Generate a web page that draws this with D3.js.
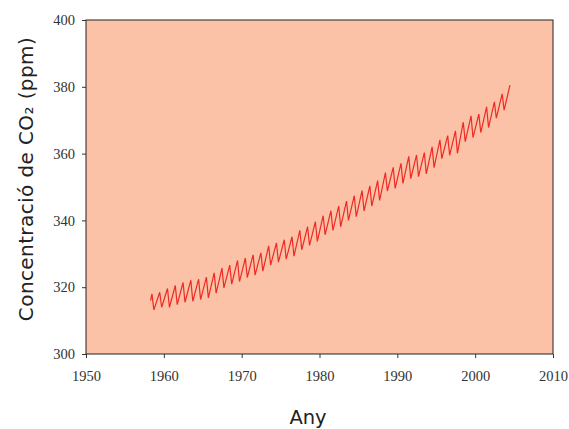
<!DOCTYPE html>
<html>
<head>
<meta charset="utf-8">
<script src="https://cdn.jsdelivr.net/npm/d3@7"></script>
<style>
  body { margin: 0; background: #fff; }
  .tick text { font-family: "Liberation Serif", "DejaVu Serif", serif; font-size: 14.5px; fill: #333; }
  .tick line { stroke: #333; }
  .domain { display: none; }
</style>
</head>
<body>
<div id="chart-area"></div>
<script>
// annual maxima (mid-year) and minima (autumn), ppm
var maxYears = d3.range(1958, 2005);
var maxValues = [318.0, 318.5, 319.6, 320.5, 321.4, 322.1, 322.4, 323.0, 324.3, 325.7,
                 326.6, 328.0, 328.7, 329.7, 330.3, 332.4, 333.3, 334.2, 335.1, 337.0,
                 338.1, 339.6, 341.4, 342.9, 344.3, 345.8, 347.4, 348.9, 350.3, 351.9,
                 354.3, 355.9, 357.1, 359.2, 359.6, 360.3, 362.0, 364.1, 365.4, 366.8,
                 369.4, 371.3, 371.8, 374.0, 375.5, 377.9, 380.5];
var minYears = d3.range(1958, 2004);
var minValues = [313.2, 314.0, 314.0, 314.8, 315.5, 315.8, 316.3, 316.8, 318.2, 319.8,
                 320.9, 321.7, 322.9, 323.6, 324.8, 326.6, 327.5, 328.4, 329.3, 331.2,
                 332.5, 333.7, 335.7, 337.0, 338.1, 340.0, 341.1, 342.8, 344.3, 346.0,
                 348.8, 349.6, 351.1, 352.5, 353.1, 353.9, 355.8, 358.5, 359.5, 360.1,
                 363.6, 364.8, 366.3, 367.8, 370.6, 373.0];
var firstPoint = {t: 1958.3, v: 316.0};

var xTicks = [1950, 1960, 1970, 1980, 1990, 2000, 2010];
var yTicks = [300, 320, 340, 360, 380, 400];

// build the zigzag series: max then min each year
var series = [firstPoint];
maxYears.forEach(function(y, i) {
    series.push({t: y + 0.47, v: maxValues[i]});
    if (i < minValues.length) series.push({t: minYears[i] + 0.72, v: minValues[i]});
});

var width = 569, height = 429;
var margin = {left: 86, right: 16, top: 20, bottom: 75};

var svg = d3.select("#chart-area").append("svg")
    .attr("width", width)
    .attr("height", height);

var x = d3.scaleLinear().domain([1950, 2010]).range([margin.left, width - margin.right]);
var y = d3.scaleLinear().domain([300, 400]).range([height - margin.bottom, margin.top]);

// plot background
svg.append("rect")
    .attr("x", x(1950))
    .attr("y", y(400))
    .attr("width", x(2010) - x(1950))
    .attr("height", y(300) - y(400))
    .attr("fill", "#fbc2a7")
    .attr("stroke", "#222")
    .attr("stroke-width", 1);

svg.append("g")
    .attr("transform", "translate(0," + y(300) + ")")
    .call(d3.axisBottom(x).tickValues(xTicks).tickFormat(d3.format("d")).tickSize(4).tickPadding(13));

svg.append("g")
    .attr("transform", "translate(" + x(1950) + ",0)")
    .call(d3.axisLeft(y).tickValues(yTicks).tickSize(4).tickPadding(7));

var line = d3.line()
    .x(function(d) { return x(d.t); })
    .y(function(d) { return y(d.v); });

svg.append("path")
    .datum(series)
    .attr("d", line)
    .attr("fill", "none")
    .attr("stroke", "#ee2a24")
    .attr("stroke-width", 1.2)
    .attr("stroke-linejoin", "miter");

// axis titles
svg.append("text")
    .attr("x", 308)
    .attr("y", 424)
    .attr("text-anchor", "middle")
    .style("font-family", "DejaVu Sans, sans-serif")
    .style("font-size", "19.5px")
    .style("fill", "#222")
    .text("Any");

svg.append("text")
    .attr("transform", "translate(33,179)rotate(-90)")
    .attr("text-anchor", "middle")
    .style("font-family", "DejaVu Sans, sans-serif")
    .style("font-size", "20px")
    .style("letter-spacing", "0.4px")
    .style("fill", "#222")
    .text("Concentració de CO₂ (ppm)");
</script>
</body>
</html>
